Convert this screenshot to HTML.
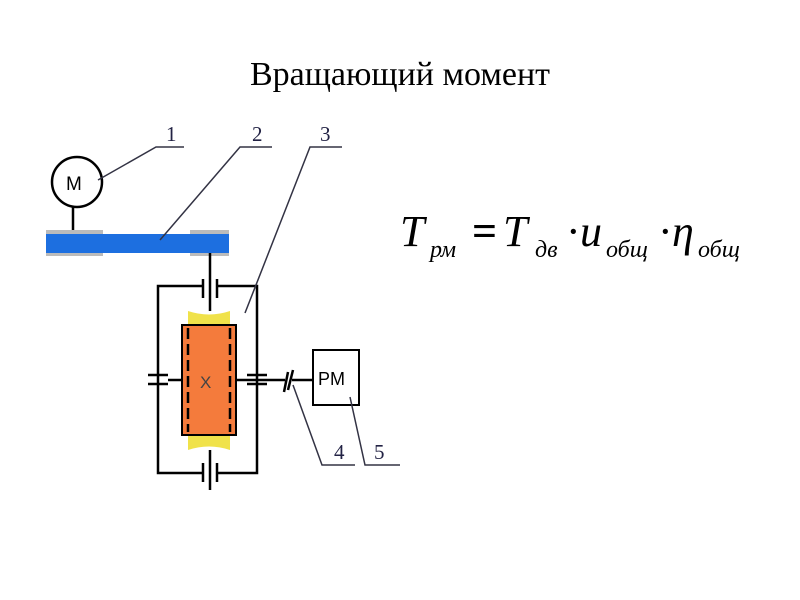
<!DOCTYPE html>
<html><head><meta charset="utf-8"><style>
body{margin:0;width:800px;height:600px;background:#fff;overflow:hidden;position:relative;font-family:"Liberation Serif",serif}
.t{position:absolute;left:0;width:800px;top:56px;text-align:center;font-size:34px}
.f{position:absolute;font-style:italic;white-space:nowrap;line-height:1}
.b{font-size:44px;top:210px}
.s{font-size:24px;top:238px}
</style></head><body>
<div class="t">Вращающий момент</div>
<svg width="800" height="600" style="position:absolute;left:0;top:0" font-family="Liberation Sans, sans-serif">
<g stroke="#000" stroke-width="2.5" fill="none">
<circle cx="77" cy="182" r="25" fill="#fff"/>
<line x1="73" y1="207" x2="73" y2="232"/>
</g>
<text x="66" y="190" font-size="19">M</text>
<rect x="46" y="230" width="57" height="26" fill="#bbb"/>
<rect x="190" y="230" width="39" height="26" fill="#bbb"/>
<rect x="46" y="234" width="183" height="19" fill="#1d6fe0"/>
<g stroke="#000" stroke-width="2.5" fill="none">
<line x1="210" y1="253" x2="210" y2="311"/>
<line x1="210" y1="450" x2="210" y2="490"/>
<polyline points="203,286 158,286 158,473 203,473"/>
<polyline points="217,286 257,286 257,473 217,473"/>
<line x1="203" y1="279" x2="203" y2="298"/><line x1="217" y1="279" x2="217" y2="298"/>
<line x1="203" y1="463" x2="203" y2="482"/><line x1="217" y1="463" x2="217" y2="482"/>
<line x1="148" y1="375" x2="168" y2="375"/><line x1="148" y1="384" x2="168" y2="384"/>
<line x1="247" y1="375" x2="267" y2="375"/><line x1="247" y1="384" x2="267" y2="384"/>
<line x1="168" y1="380" x2="182" y2="380"/>
<line x1="236" y1="380" x2="285" y2="380"/>
<line x1="292" y1="380" x2="313" y2="380"/>
<path d="M284,392 L288,372 M288,390 L293,370"/>
</g>
<path d="M188,311 Q209,318 230,311 L230,325 L188,325Z" fill="#f0e24a"/>
<path d="M188,450 Q209,443 230,450 L230,435 L188,435Z" fill="#f0e24a"/>
<rect x="182" y="325" width="54" height="110" fill="#f47b3c" stroke="#000" stroke-width="2"/>
<g stroke="#000" stroke-width="2.5" stroke-dasharray="11,5"><line x1="188" y1="328" x2="188" y2="432"/><line x1="230" y1="328" x2="230" y2="432"/></g>
<text x="200" y="388" font-size="17" fill="#444">X</text>
<rect x="313" y="350" width="46" height="55" fill="#fff" stroke="#000" stroke-width="2"/>
<text x="318" y="385" font-size="18">PM</text>
<g stroke="#334" stroke-width="1.5" fill="none">
<polyline points="98,180 156,147 184,147"/>
<polyline points="160,240 240,147 272,147"/>
<polyline points="245,313 310,147 342,147"/>
<polyline points="293,385 322,465 355,465"/>
<polyline points="350,397 365,465 400,465"/>
</g>
<g font-family="Liberation Serif, serif" font-size="21" fill="#224">
<text x="166" y="141">1</text><text x="252" y="141">2</text><text x="320" y="141">3</text>
<text x="334" y="459">4</text><text x="374" y="459">5</text>
</g>
</svg>
<div class="f b" style="left:400px">T</div>
<div class="f s" style="left:430px">рм</div>
<div class="f b" style="left:472px;font-style:normal;font-weight:bold">=</div>
<div class="f b" style="left:503px">T</div>
<div class="f s" style="left:535px">дв</div>
<div class="f b" style="left:566px;font-style:normal">·</div>
<div class="f b" style="left:580px">u</div>
<div class="f s" style="left:606px">общ</div>
<div class="f b" style="left:658px;font-style:normal">·</div>
<div class="f b" style="left:672px">η</div>
<div class="f s" style="left:698px">общ</div>
</body></html>
